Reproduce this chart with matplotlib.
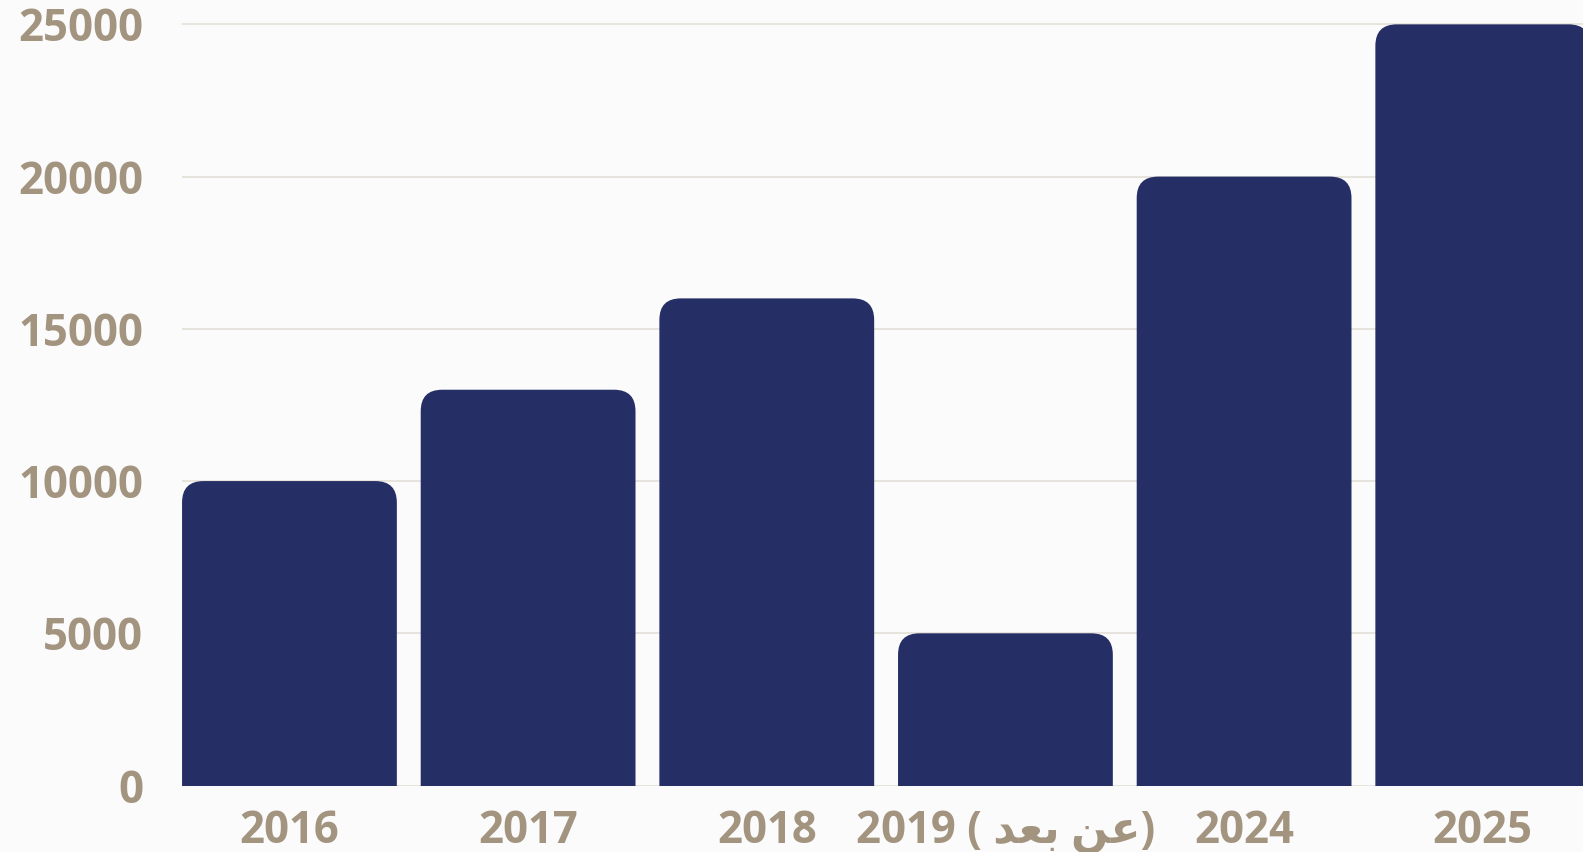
import matplotlib
matplotlib.use('Agg')
import matplotlib.pyplot as plt
from matplotlib.patches import FancyBboxPatch

# data
years = ['2016', '2017', '2018',
         '2019 ( \uFEAA\uFECC\uFE91 \uFEE6\uFECB)',  # "2019 (عن بعد)" shaped, visual order
         '2024', '2025']
students = [10000, 13000, 16000, 5000, 20000, 25000]
yticks = [0, 5000, 10000, 15000, 20000, 25000]

bar_color = '#252f66'
label_color = '#a39480'
grid_color = '#e7e3dd'
fonts = ['Open Sans', 'DejaVu Sans']

fig = plt.figure(figsize=(15.83, 8.52), dpi=100, facecolor='#fbfbfb')
ax = fig.add_axes([0.115, 0.078, 0.885, 0.922])
ax.set_facecolor('#fbfbfb')

x = list(range(len(years)))
bars = ax.bar(x, students, width=0.9, color=bar_color, zorder=3)

ax.set_xlim(-0.45, 5.42)
ax.set_ylim(0, 25800)

# swap the square bars for ones with rounded top corners
rx = 0.09
ry = 705
for b in bars:
    bx, bw, bh = b.get_x(), b.get_width(), b.get_height()
    b.set_visible(False)
    p = FancyBboxPatch((bx, -3 * ry), bw, bh + 3 * ry,
                       boxstyle=f'round,pad=0,rounding_size={rx}',
                       mutation_aspect=ry / rx,
                       facecolor=bar_color, edgecolor='none', zorder=3)
    p.set_clip_path(ax.patch)
    ax.add_patch(p)

ax.set_yticks(yticks)
ax.set_yticklabels([str(v) for v in yticks])
ax.set_xticks(x)
ax.set_xticklabels(years)
ax.grid(axis='y', color=grid_color, linewidth=1.4, zorder=0)
ax.tick_params(axis='both', length=0, colors=label_color)
ax.tick_params(axis='y', pad=28)
ax.tick_params(axis='x', pad=17)
for lab in ax.get_yticklabels() + ax.get_xticklabels():
    lab.set_fontfamily(fonts)
    lab.set_fontweight('bold')
    lab.set_fontsize(31.5)
    lab.set_color(label_color)

for s in ax.spines.values():
    s.set_visible(False)

fig.savefig('out.png', dpi=100, facecolor=fig.get_facecolor())
